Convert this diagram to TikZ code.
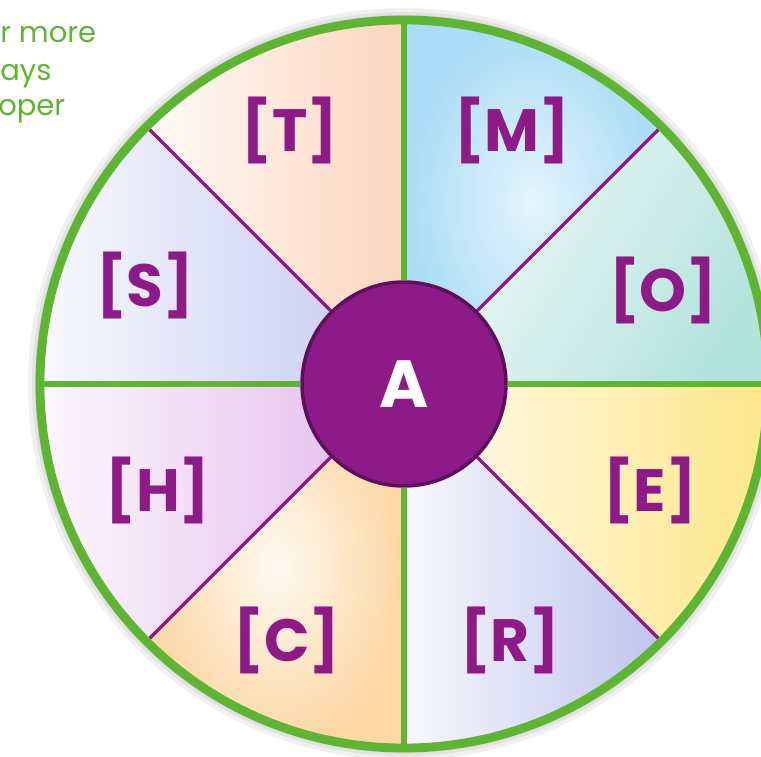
\documentclass[tikz,border=0pt]{standalone}
\usepackage{fontspec}
\setmainfont{Poppins}
\definecolor{gruen}{HTML}{5DB532}
\definecolor{lila}{HTML}{8E1A88}
\definecolor{lilaDunkel}{HTML}{5E0F5C}
\definecolor{farbeT}{HTML}{FCD6BE}
\definecolor{farbeM}{HTML}{A9DCF6}
\definecolor{farbeO}{HTML}{B4E3DD}
\definecolor{farbeE}{HTML}{FEE68A}
\definecolor{farbeR}{HTML}{C0C4EE}
\definecolor{farbeC}{HTML}{FDD7A4}
\definecolor{farbeH}{HTML}{E3B8EB}
\definecolor{farbeS}{HTML}{C4C8F1}

\tikzset{
    speiche/.style={line width=3.8pt, draw=gruen},
    diagonale/.style={line width=2pt, draw=lila},
    randlinie/.style={line width=5pt, draw=gruen},
    kern/.style={circle, fill=lila, draw=lilaDunkel, line width=2pt, minimum size=4.08cm, inner sep=0pt,
        text=white, font=\fontsize{38}{40}\selectfont\bfseries},
    marke/.style={text=lila, font=\fontsize{34}{40}\selectfont\bfseries},
    hinweis/.style={anchor=base west, inner sep=0pt, text=gruen, font=\fontsize{16.5}{20}\selectfont}
}

\begin{document}
\begin{tikzpicture}[scale=0.02]
    \useasboundingbox (-404,-373) rectangle (357,384);
    \clip (-404,-373) rectangle (357,384);
    \foreach \r in {376,372,369}
        \fill[black, opacity=0.06] (0,0) circle (\r);
    \foreach \a/\b/\f/\w in {90/135/farbeT/90, 0/45/farbeO/60, -45/0/farbeE/90, -90/-45/farbeR/90,
            180/225/farbeH/90, 135/180/farbeS/90}
        \shade[left color=\f!12, right color=\f, shading angle=\w] (0,0) -- (\a:364) arc (\a:\b:364) -- cycle;
    \shade[inner color=farbeM!30, outer color=farbeM] (0,0) -- (45:364) arc (45:90:364) -- cycle;
    \shade[inner color=farbeC!15, outer color=farbeC] (0,0) -- (-135:364) arc (-135:-90:364) -- cycle;
    \foreach \w in {0,45,...,315}
        \coordinate (r\w) at (\w:364);
    \path node[kern] (A) at (0,0) {A};
    \foreach \w in {0,90,180,270}
        \draw[speiche] (A) -- (r\w);
    \foreach \w in {45,135,225,315}
        \draw[diagonale] (A) -- (r\w);
    \draw[randlinie] (0,0) circle (364);
    \path node[marke] (lT) at (-114,254) {[T]}
        node[marke] (lM) at (108,254) {[M]}
        node[marke] (lS) at (-259,99) {[S]}
        node[marke] (lO) at (259,94) {[O]}
        node[marke] (lH) at (-246,-106) {[H]}
        node[marke] (lE) at (246,-106) {[E]}
        node[marke] (lC) at (-117,-256) {[C]}
        node[marke] (lR) at (106,-256) {[R]};
    \path node[hinweis] (z1) at (-404,341) {r more}
        node[hinweis] (z2) at (-404,304) {ays}
        node[hinweis] (z3) at (-406,269) {oper};
\end{tikzpicture}
\end{document}
